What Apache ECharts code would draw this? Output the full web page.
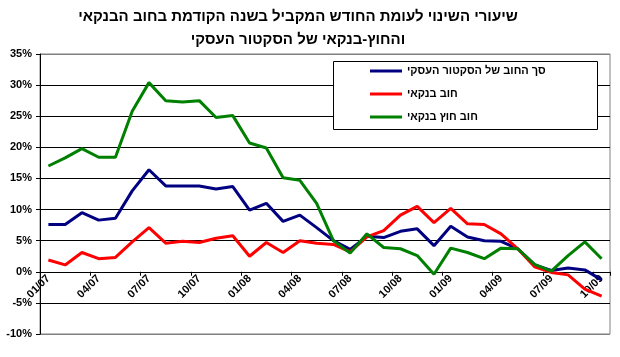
<!DOCTYPE html>
<html><head><meta charset="utf-8">
<script src="https://cdn.jsdelivr.net/npm/echarts@6/dist/echarts.min.js"></script>
<style>html,body{margin:0;padding:0;background:#fff}#c{width:620px;height:357px}</style>
</head><body><div id="c"></div>
<script>
const titleLines = ['שיעורי השינוי לעומת החודש המקביל בשנה הקודמת בחוב הבנקאי', 'והחוץ-בנקאי של הסקטור העסקי'];
const seriesNames = ['סך החוב של הסקטור העסקי', 'חוב בנקאי', 'חוב חוץ בנקאי'];
const categories = ['01/07','02/07','03/07','04/07','05/07','06/07','07/07','08/07','09/07','10/07','11/07','12/07',
  '01/08','02/08','03/08','04/08','05/08','06/08','07/08','08/08','09/08','10/08','11/08','12/08',
  '01/09','02/09','03/09','04/09','05/09','06/09','07/09','08/09','09/09','10/09'];
const totalDebt = [7.6,7.6,9.5,8.3,8.6,13.0,16.4,13.8,13.8,13.8,13.3,13.7,
  9.9,11.0,8.1,9.1,7.1,5.0,3.6,5.7,5.5,6.5,6.9,4.2,
  7.3,5.6,5.0,4.9,3.7,1.1,0.2,0.6,0.3,-1.3];
const bankDebt = [1.9,1.1,3.1,2.1,2.3,4.8,7.1,4.6,4.9,4.7,5.4,5.8,
  2.5,4.7,3.1,5.0,4.6,4.4,3.2,5.6,6.6,9.1,10.5,7.9,
  10.2,7.7,7.6,6.1,3.7,0.8,-0.1,-0.5,-2.8,-3.9];
const nonBankDebt = [17.0,18.3,19.8,18.4,18.4,25.8,30.4,27.5,27.3,27.5,24.8,25.1,
  20.7,19.9,15.1,14.7,11.0,5.0,3.0,6.1,3.9,3.7,2.6,-0.4,
  3.8,3.1,2.1,3.8,3.7,1.2,0.1,2.6,4.8,2.1];
const yMin = -10, yMax = 35, yStep = 5;
const colors = ['#000080', '#FF0000', '#008000'];

const FONT = '"Liberation Sans", Arial, sans-serif';
const chart = echarts.init(document.getElementById('c'), null, {renderer: 'canvas'});
const nLines = (yMax - yMin) / yStep + 1;
const splitColors = [];
for (let i = 0; i < nLines; i++) splitColors.push(i === 0 || i === nLines - 1 ? '#808080' : '#000000');

const gridTop = 54, gridBottom = 23, H = 357;
const plotH = H - gridTop - gridBottom;
// shift the category axis up so that it sits on the 0% line
const zeroOffset = -plotH * (0 - yMin) / (yMax - yMin);

chart.setOption({
  animation: false,
  backgroundColor: '#fff',
  title: {
    text: titleLines.join('\n'),
    left: 298, top: 5, padding: 0, textAlign: 'center',
    textStyle: {fontFamily: FONT, fontSize: 15, fontWeight: 'bold', color: '#000', lineHeight: 23}
  },
  graphic: [{
    type: 'rect', shape: {x: 333.5, y: 61.5, width: 264, height: 68},
    style: {fill: '#fff', stroke: '#000', lineWidth: 1}, z: 10
  }],
  legend: {
    orient: 'vertical', left: 370, top: 64, padding: 0,
    itemWidth: 32, itemHeight: 3, itemGap: 9, icon: 'rect', z: 20,
    textStyle: {fontFamily: FONT, fontSize: 11, fontWeight: 'bold', color: '#000', lineHeight: 14},
    data: seriesNames
  },
  grid: {left: 40, right: 10, top: gridTop, bottom: gridBottom, show: true, borderColor: '#808080', borderWidth: 1, backgroundColor: 'transparent'},
  xAxis: {
    type: 'category', data: categories, boundaryGap: true, position: 'bottom', offset: zeroOffset,
    axisLine: {onZero: false, lineStyle: {color: '#000', width: 1}},
    axisTick: {show: true, interval: 2, length: 4, lineStyle: {color: '#000'}},
    axisLabel: {interval: 2, rotate: 45, margin: 5, fontFamily: FONT, fontSize: 11, fontWeight: 'bold', color: '#000'},
    splitLine: {show: false}
  },
  yAxis: {
    type: 'value', min: yMin, max: yMax, interval: yStep,
    axisLine: {show: true, lineStyle: {color: '#000', width: 1}},
    axisTick: {show: true, length: 4, lineStyle: {color: '#000'}},
    axisLabel: {formatter: v => v + '%', margin: 8, fontFamily: FONT, fontSize: 11, fontWeight: 'bold', color: '#000'},
    splitLine: {show: true, lineStyle: {color: splitColors, width: 1}}
  },
  series: [totalDebt, bankDebt, nonBankDebt].map((d, i) => ({
    name: seriesNames[i], type: 'line', data: d, showSymbol: false, symbol: 'none',
    lineStyle: {color: colors[i], width: 3}, itemStyle: {color: colors[i]}, z: 2 + i
  }))
});
</script></body></html>
